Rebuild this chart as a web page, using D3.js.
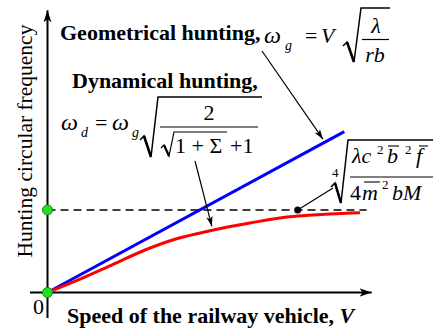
<!DOCTYPE html>
<html>
<head>
<meta charset="utf-8">
<script src="https://cdn.jsdelivr.net/npm/d3@7/dist/d3.min.js"></script>
<style>
  html, body { margin: 0; padding: 0; background: #ffffff; }
  svg { display: block; }
  text { font-family: "Liberation Serif", "Times New Roman", serif; fill: #000; }
</style>
</head>
<body>
<script>
// Speed V (same units as frequency, so geometric hunting is omega_g = V)
const dynSpeed = [0, 0.202, 0.422, 0.641, 0.859, 1.068, 1.330, 1.574, 1.692, 1.856, 2.053];
// Dynamical hunting frequency omega_d (levels off towards the limit)
const dynFreq  = [0, 0.152, 0.333, 0.515, 0.657, 0.749, 0.842, 0.915, 0.933, 0.952, 0.967];
// Geometrical hunting: straight line through the origin
const geoSpeed = [0, 1.95];
const geoFreq  = [0, 1.95];
// Limit frequency (4th-root expression) and where it is marked
const limitFreq = 1;
const limitSpan = [0, 2.097];
const limitMarkSpeed = 1.644;
// Highlighted points on the frequency axis
const markSpeed = [0, 0];
const markFreq  = [0, 1];
// Axis extents and tick labels
const xAxisSpan = [-0.115, 2.13];
const yAxisSpan = [-0.31, 3.42];
const xTickLabels = ["0"];

const W = 438, H = 331;
const x = d3.scaleLinear().domain([0, 2]).range([47.5, 351.9]);
const y = d3.scaleLinear().domain([0, 1]).range([292.5, 210]);

const svg = d3.select("body").append("svg")
  .attr("width", W).attr("height", H)
  .attr("viewBox", `0 0 ${W} ${H}`);

const defs = svg.append("defs");
defs.append("marker")
  .attr("id", "axisHead")
  .attr("viewBox", "0 -5 12 10")
  .attr("refX", 12).attr("refY", 0)
  .attr("markerWidth", 12).attr("markerHeight", 10)
  .attr("markerUnits", "userSpaceOnUse")
  .attr("orient", "auto")
  .append("path").attr("d", "M0,-4L12,0L0,4L3,0Z").attr("fill", "#000");
defs.append("marker")
  .attr("id", "pointerHead")
  .attr("viewBox", "0 -4 10 8")
  .attr("refX", 10).attr("refY", 0)
  .attr("markerWidth", 10).attr("markerHeight", 8)
  .attr("markerUnits", "userSpaceOnUse")
  .attr("orient", "auto")
  .append("path").attr("d", "M0,-3.2L10,0L0,3.2L2.5,0Z").attr("fill", "#000");

const line = d3.line().x(d => d[0]).y(d => d[1]);

// Axes
svg.append("path")
  .attr("d", line([[x(xAxisSpan[0]), y(0)], [x(xAxisSpan[1]), y(0)]]))
  .attr("stroke", "#000").attr("stroke-width", 2).attr("fill", "none")
  .attr("marker-end", "url(#axisHead)");
svg.append("path")
  .attr("d", line([[x(0), y(yAxisSpan[0])], [x(0), y(yAxisSpan[1])]]))
  .attr("stroke", "#000").attr("stroke-width", 2).attr("fill", "none")
  .attr("marker-end", "url(#axisHead)");

// Limit level (dashed)
svg.append("path")
  .attr("d", line(limitSpan.map(v => [x(v), y(limitFreq)])))
  .attr("stroke", "#000").attr("stroke-width", 1.5)
  .attr("stroke-dasharray", "8,5").attr("fill", "none");

// Geometrical hunting line
svg.append("path")
  .attr("d", line(geoSpeed.map((v, i) => [x(v), y(geoFreq[i])])))
  .attr("stroke", "#0000ff").attr("stroke-width", 3).attr("fill", "none");

// Dynamical hunting curve
svg.append("path")
  .attr("d", d3.line().curve(d3.curveMonotoneX)
    .x(d => x(d[0])).y(d => y(d[1]))(dynSpeed.map((v, i) => [v, dynFreq[i]])))
  .attr("stroke", "#ff0000").attr("stroke-width", 3).attr("fill", "none");

// Green markers on the frequency axis
svg.selectAll("circle.mark")
  .data(markSpeed.map((v, i) => [v, markFreq[i]]))
  .join("circle").attr("class", "mark")
  .attr("cx", d => x(d[0])).attr("cy", d => y(d[1])).attr("r", 5)
  .attr("fill", "#22e022").attr("stroke", "#0b8f0b").attr("stroke-width", 1);

// Tick label at the origin
svg.selectAll("text.tick")
  .data(xTickLabels)
  .join("text").attr("class", "tick")
  .attr("x", x(0) - 9).attr("y", 314)
  .attr("text-anchor", "middle")
  .attr("font-size", 22)
  .text(d => d);

// Axis titles
svg.append("text")
  .attr("transform", "translate(32,141) rotate(-90)")
  .attr("text-anchor", "middle")
  .attr("font-size", 21.5)
  .text("Hunting circular frequency");
const xt = svg.append("text")
  .attr("x", 67).attr("y", 323)
  .attr("font-size", 22).attr("font-weight", "bold");
xt.append("tspan").text("Speed of the railway vehicle, ");
xt.append("tspan").attr("font-style", "italic").text("V");

// Text helper
function t(xp, yp, s, opt = {}) {
  return svg.append("text")
    .attr("x", xp).attr("y", yp)
    .attr("font-size", opt.size || 22)
    .attr("font-style", opt.italic ? "italic" : "normal")
    .attr("font-weight", opt.bold ? "bold" : "normal")
    .attr("text-anchor", opt.anchor || "start")
    .text(s);
}
function stroke(d, w = 1.2) {
  return svg.append("path").attr("d", d)
    .attr("stroke", "#000").attr("stroke-width", w)
    .attr("fill", "none").attr("stroke-linejoin", "miter");
}

// Geometrical hunting label and formula
t(60, 40, "Geometrical hunting,", { bold: true });
t(264, 43, "ω", { italic: true, size: 24 });
t(285, 50, "g", { italic: true, size: 14 });
t(305, 43, "=");
t(321, 43, "V", { italic: true });
stroke("M343,46L347,42L354,62L361,8L390,8", 1.5);
stroke("M347,42L354,62", 2.6);
t(376, 33, "λ", { italic: true, anchor: "middle" });
stroke("M362,39.5H389", 1.2);
t(375, 62, "rb", { italic: true, anchor: "middle" });

// Dynamical hunting label and formula
t(72, 88, "Dynamical hunting,", { bold: true });
t(61, 130, "ω", { italic: true, size: 24 });
t(81, 137, "d", { italic: true, size: 14 });
t(95, 130, "=");
t(112, 130, "ω", { italic: true, size: 24 });
t(132, 137, "g", { italic: true, size: 14 });
stroke("M140,140L144,136L151,157L158,97L262,97", 1.5);
stroke("M144,136L151,157", 2.6);
t(209, 120, "2", { anchor: "middle" });
stroke("M160,127H258", 1.2);
stroke("M161,148L164,145L169,156L174,132L227,132", 1.2);
stroke("M164,145L169,156", 2.2);
t(175, 153, "1 + Σ");
t(230, 153, "+1");

// Limit frequency formula (4th root)
t(332, 177, "4", { size: 13 });
stroke("M331,187L335,183L341,203L348,140L433,140", 1.5);
stroke("M335,183L341,203", 2.6);
t(352, 163, "λc", { italic: true });
t(377, 154, "2", { size: 13 });
t(387, 163, "b", { italic: true });
stroke("M388,146H399", 1.1);
t(405, 154, "2", { size: 13 });
t(416, 163, "f", { italic: true });
stroke("M419,146H428", 1.1);
stroke("M350,177H433", 1.2);
t(350, 200, "4");
t(362, 200, "m", { italic: true });
stroke("M364,182H380", 1.1);
t(382, 189, "2", { size: 13 });
t(392, 200, "bM", { italic: true });

// Pointers from the formulas to the curves
const geoTarget = 1.81;
svg.append("path")
  .attr("d", line([[262, 51], [x(geoTarget), y(geoTarget) - 4]]))
  .attr("stroke", "#000").attr("stroke-width", 1.2).attr("fill", "none")
  .attr("marker-end", "url(#pointerHead)");

const dynTarget = 1.08;
const dynInterp = d3.scaleLinear().domain(dynSpeed).range(dynFreq);
svg.append("path")
  .attr("d", line([[195, 161], [x(dynTarget), y(dynInterp(dynTarget)) - 4]]))
  .attr("stroke", "#000").attr("stroke-width", 1.2).attr("fill", "none")
  .attr("marker-end", "url(#pointerHead)");

svg.append("path")
  .attr("d", line([[x(limitMarkSpeed), y(limitFreq)], [333, 188]]))
  .attr("stroke", "#000").attr("stroke-width", 1.2).attr("fill", "none");
svg.append("circle")
  .attr("cx", x(limitMarkSpeed)).attr("cy", y(limitFreq)).attr("r", 3.5)
  .attr("fill", "#000");
</script>
</body>
</html>
